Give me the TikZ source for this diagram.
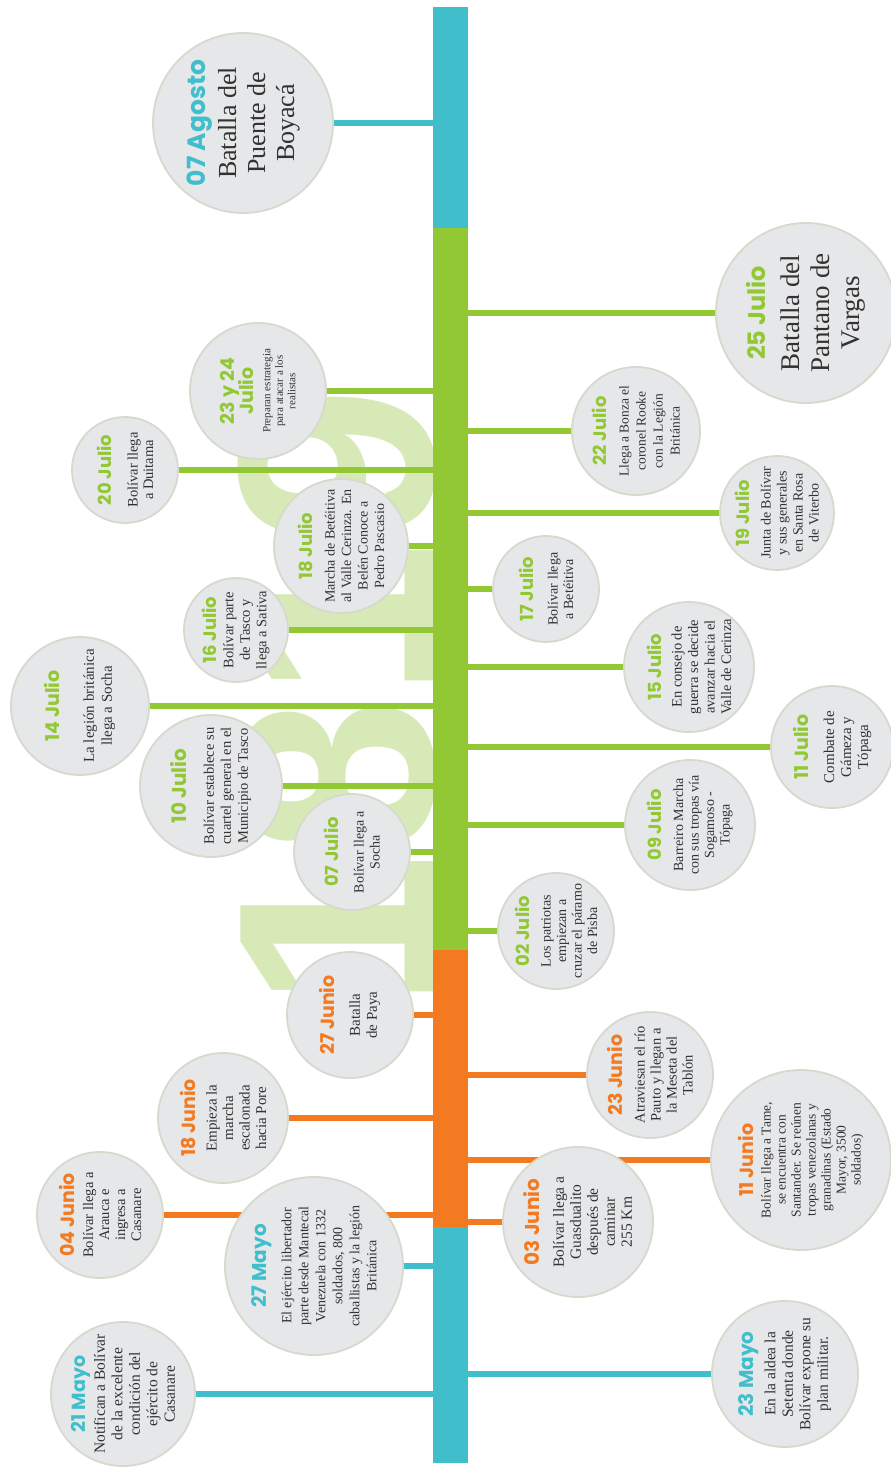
\documentclass[tikz,border=0pt]{standalone}
\usepackage{fontspec}
\setmainfont{Liberation Serif}
\newfontfamily\datefont{Poppins}
\newfontfamily\markfont{Liberation Sans}
\definecolor{cteal}{RGB}{64,190,204}
\definecolor{cgreen}{RGB}{146,200,52}
\definecolor{corange}{RGB}{243,122,32}
\definecolor{cfill}{RGB}{230,231,233}
\definecolor{cborder}{RGB}{214,218,204}
\definecolor{ctext}{RGB}{50,50,50}
\definecolor{cmark}{RGB}{216,233,184}
\newcommand\dt[3]{{\datefont\bfseries\fontsize{#2}{#2}\selectfont\color{#1}#3}}
\pgfdeclarelayer{back}
\pgfdeclarelayer{links}
\pgfsetlayers{back,links,main}
\tikzset{
  circ/.style={circle, fill=cfill, draw=cborder, line width=1.8pt, inner sep=0pt, minimum size=#1},
  txt/.style 2 args={rotate=90, align=center, inner sep=0pt, text=ctext, font=\fontsize{#1}{#2}\selectfont},
  link/.style={draw=#1, line width=6.5pt},
  bar/.style={rectangle, inner sep=0pt, outer sep=0pt, minimum width=35pt, fill=#1},
}
\begin{document}
\begin{tikzpicture}[x=1pt, y=-1pt]
\begin{pgfonlayer}{back}
  \fill[white] (0,0) rectangle (891,1469);
  \node[rotate=90, anchor=base west, inner sep=0pt, text=cmark, font=\markfont\bfseries\fontsize{280}{280}\selectfont] (mark) at (433,1010) {1819};
\end{pgfonlayer}
\useasboundingbox (0,0) rectangle (891,1469);

% bar
\node[bar=cteal, minimum height=221pt] (barA) at (450.5,117.5) {};
\node[bar=cgreen, minimum height=722pt] (barG) at (450.5,589) {};
\node[bar=corange, minimum height=277pt] (barO) at (450.5,1088.5) {};
\node[bar=cteal, minimum height=236pt] (barB) at (450.5,1345) {};

% ---------- right side
\node[circ=146pt] (m23) at (785,1374) {};
\node[txt={15.5}{17.5}] (m23t) at (m23) {\dt{cteal}{20}{23 Mayo}\\[4pt]En la aldea la\\Setenta donde\\Bolívar expone su\\plan militar.};

\node[circ=150pt] (j03) at (578,1222) {};
\node[txt={15.5}{17}] (j03t) at (j03) {\dt{corange}{20}{03 Junio}\\[7pt]Bolívar llega a\\Guasdualito\\después de\\caminar\\255 Km};

\node[circ=180pt] (j11) at (801,1160) {};
\node[txt={13.5}{15}] (j11t) at (j11) {\dt{corange}{19}{11 Junio}\\[2pt]Bolívar llega a Tame,\\se encuentra con\\Santander. Se reúnen\\tropas venezolanas y\\granadinas (Estado\\Mayor, 3500\\soldados)};

\node[circ=126pt] (j23) at (650,1075) {};
\node[txt={14.5}{16}] (j23t) at (j23) {\dt{corange}{19}{23 Junio}\\[6pt]Atraviesan el río\\Pauto y llegan a\\la Meseta del\\Tablón};

\node[circ=116pt] (l02) at (556,931) {};
\node[txt={14}{15.5}] (l02t) at (l02) {\dt{cgreen}{18}{02 Julio}\\[6pt]Los patriotas\\empiezan a\\cruzar el páramo\\de Pisba};

\node[circ=130pt] (l09) at (690,825) {};
\node[txt={14}{15.5}] (l09t) at (l09) {\dt{cgreen}{18}{09 Julio}\\[6pt]Barreiro Marcha\\con sus tropas vía\\Sogamoso -\\Tópaga};

\node[circ=122pt] (l11) at (832,747) {};
\node[txt={15}{17}] (l11t) at (l11) {\dt{cgreen}{19}{11 Julio}\\[9pt]Combate de\\Gámeza y\\Tópaga};

\node[circ=130pt] (l15) at (689,667) {};
\node[txt={14.5}{16.5}] (l15t) at (l15) {\dt{cgreen}{18}{15 Julio}\\[4pt]En consejo de\\guerra se decide\\avanzar hacia el\\Valle de Cerinza};

\node[circ=106pt] (l17) at (546,589) {};
\node[txt={14}{15.5}] (l17t) at (l17) {\dt{cgreen}{18}{17 Julio}\\[9pt]Bolívar llega\\a Betéitiva};

\node[circ=114pt] (l19) at (777,513) {};
\node[txt={14}{16}] (l19t) at (l19) {\dt{cgreen}{18}{19 Julio}\\[5pt]Junta de Bolívar\\y sus generales\\en Santa Rosa\\de Viterbo};

\node[circ=128pt] (l22) at (636,431) {};
\node[txt={13.5}{17}] (l22t) at (l22) {\dt{cgreen}{18}{22 Julio}\\[5pt]Llega a Bonza el\\coronel Rooke\\con la Legión\\Británica};

\node[circ=180pt] (l25) at (806,313) {};
\node[txt={27}{30}] (l25t) at (l25) {\dt{cgreen}{24}{25 Julio}\\[4pt]Batalla del\\Pantano de\\Vargas};

% ---------- left side
\node[circ=180pt] (a07) at (243,123) {};
\node[txt={26}{29}] (a07t) at (a07) {\dt{cteal}{25}{07 Agosto}\\[2pt]Batalla del\\Puente de\\Boyacá};

\node[circ=136pt] (l2324) at (258,391) {};
\node[txt={11}{12.5}] (l2324t) at (l2324) {\dt{cgreen}{19}{23 y 24}\\[-2pt]\dt{cgreen}{19}{Julio}\\[4pt]Preparan estrategia\\para atacar a los\\realistas};

\node[circ=106pt] (l20) at (125,470) {};
\node[txt={14.5}{15.5}] (l20t) at (l20) {\dt{cgreen}{18}{20 Julio}\\[11pt]Bolívar llega\\a Duitama};

\node[circ=134pt] (l18) at (341,546) {};
\node[txt={14}{16.5}] (l18t) at (l18) {\dt{cgreen}{18}{18 Julio}\\[6pt]Marcha de Betéitiva\\al Valle Cerinza. En\\Belén Conoce a\\Pedro Pascasio};

\node[circ=104pt] (l16) at (236,630) {};
\node[txt={14.5}{16.5}] (l16t) at (l16) {\dt{cgreen}{18}{16 Julio}\\[0pt]Bolívar parte\\de Tasco y\\llega a Sativa};

\node[circ=138pt] (l14) at (80,706) {};
\node[txt={15}{18}] (l14t) at (l14) {\dt{cgreen}{19}{14 Julio}\\[16pt]La legión británica\\llega a Socha};

\node[circ=142pt] (l10) at (211,786) {};
\node[txt={14.5}{17}] (l10t) at (l10) {\dt{cgreen}{20}{10 Julio}\\[10pt]Bolívar establece su\\cuartel general en el\\Municipio de Tasco};

\node[circ=116pt] (l07) at (352,852) {};
\node[txt={14}{16}] (l07t) at (l07) {\dt{cgreen}{18}{07 Julio}\\[9pt]Bolívar llega a\\Socha};

\node[circ=126pt] (j27) at (350,1015) {};
\node[txt={15}{17}] (j27t) at (j27) {\dt{corange}{19}{27 Junio}\\[8pt]Batalla\\de Paya};

\node[circ=130pt] (j18) at (223,1118) {};
\node[txt={15}{16.5}] (j18t) at (j18) {\dt{corange}{19}{18 Junio}\\[5pt]Empieza la\\marcha\\escalonada\\hacia Pore};

\node[circ=126pt] (j04) at (100,1215) {};
\node[txt={14.5}{16}] (j04t) at (j04) {\dt{corange}{19}{04 Junio}\\[3pt]Bolívar llega a\\Arauca e\\ingresa a\\Casanare};

\node[circ=178pt] (m27) at (314,1266) {};
\node[txt={14}{17}] (m27t) at (m27) {\dt{cteal}{20}{27 Mayo}\\[8pt]El ejército libertador\\parte desde Mantecal\\Venezuela con 1332\\soldados, 800\\caballistas y la legión\\Británica};

\node[circ=144pt] (m21) at (123,1394) {};
\node[txt={15.5}{17.5}] (m21t) at (m21) {\dt{cteal}{19}{21 Mayo}\\[2pt]Notifican a Bolívar\\de la excelente\\condición del\\ejército de\\Casanare};

% ---------- connectors
\begin{pgfonlayer}{links}
  \draw[link=cteal] (a07) -- (a07 -| barA);
  \draw[link=cgreen] (l25) -- (l25 -| barG);
  \draw[link=cgreen] (l2324) -- (l2324 -| barG);
  \draw[link=cgreen] (l22) -- (l22 -| barG);
  \draw[link=cgreen] (l20) -- (l20 -| barG);
  \draw[link=cgreen] (l19) -- (l19 -| barG);
  \draw[link=cgreen] (l18) -- (l18 -| barG);
  \draw[link=cgreen] (l17) -- (l17 -| barG);
  \draw[link=cgreen] (l16) -- (l16 -| barG);
  \draw[link=cgreen] (l15) -- (l15 -| barG);
  \draw[link=cgreen] (l14) -- (l14 -| barG);
  \draw[link=cgreen] (l11) -- (l11 -| barG);
  \draw[link=cgreen] (l10) -- (l10 -| barG);
  \draw[link=cgreen] (l09) -- (l09 -| barG);
  \draw[link=cgreen] (l07) -- (l07 -| barG);
  \draw[link=cgreen] (l02) -- (l02 -| barG);
  \draw[link=corange] (j27) -- (j27 -| barO);
  \draw[link=corange] (j23) -- (j23 -| barO);
  \draw[link=corange] (j18) -- (j18 -| barO);
  \draw[link=corange] (j11) -- (j11 -| barO);
  \draw[link=corange] (j04) -- (j04 -| barO);
  \draw[link=corange] (j03) -- (j03 -| barO);
  \draw[link=cteal] (m27) -- (m27 -| barB);
  \draw[link=cteal] (m23) -- (m23 -| barB);
  \draw[link=cteal] (m21) -- (m21 -| barB);
\end{pgfonlayer}
\end{tikzpicture}
\end{document}
